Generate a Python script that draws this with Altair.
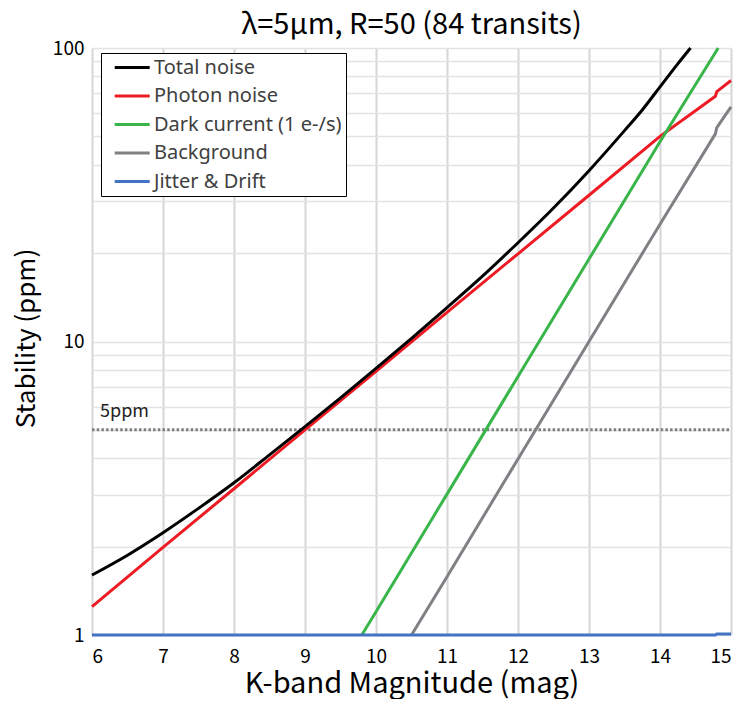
import altair as alt
import pandas as pd

# ---- data ----
total_mag = [6, 6.5, 7, 7.5, 8, 8.5, 9, 9.5, 10, 10.5, 11, 11.5, 12, 12.5, 13, 13.5, 13.75, 14, 14.25, 14.43]
total_val = [1.60, 1.87, 2.23, 2.70, 3.30, 4.11, 5.13, 6.43, 8.1, 10.25, 13.05, 16.7, 21.7, 28.5, 38.2, 52.3, 61.5, 73.7, 88.3, 100]

photon_mag = [6, 7, 8, 9, 10, 11, 12, 13, 14, 14.78, 14.8, 15]
photon_val = [1.25, 1.99, 3.15, 5.0, 7.92, 12.56, 19.9, 31.5, 50, 68.5, 71, 77.5]

dark_mag = [9.8, 10, 11, 12, 13, 14, 14.82]
dark_val = [1.0, 1.2, 3.02, 7.6, 19.1, 47.9, 100]

bkg_mag = [10.5, 11, 12, 13, 14, 14.78, 14.8, 15]
bkg_val = [1.0, 1.58, 3.98, 10.0, 25.1, 51, 53.5, 63]

jit_mag = [6, 14.78, 14.8, 15]
jit_val = [1.0, 1.0, 1.008, 1.008]

series = ["Total noise", "Photon noise", "Dark current (1 e-/s)", "Background", "Jitter & Drift"]
colors = ["#000000", "#ED1C24", "#39B54A", "#808085", "#4472C4"]

x_ticks = [6, 7, 8, 9, 10, 11, 12, 13, 14, 15]
y_grid = [1, 2, 3, 4, 5, 6, 7, 8, 9, 10, 20, 30, 40, 50, 60, 70, 80, 90, 100]
ref_level = [5]
ref_label = ["5ppm"]

rows = []
for name, ms, vs in zip(series,
                        [total_mag, photon_mag, dark_mag, bkg_mag, jit_mag],
                        [total_val, photon_val, dark_val, bkg_val, jit_val]):
    for i, (m, v) in enumerate(zip(ms, vs)):
        rows.append({"series": name, "mag": m, "ppm": v, "order": i})
df = pd.DataFrame(rows)
ref_df = pd.DataFrame({"ppm": ref_level, "label": ref_label, "x0": [6], "x1": [15]})

FONT = "Noto Sans CJK JP"

xscale = alt.Scale(domain=[6, 15], nice=False)
yscale = alt.Scale(type="log", domain=[1, 100], nice=False)

ref_line = alt.Chart(ref_df).mark_rule(color="#7f7f7f", strokeWidth=3, strokeDash=[2.5, 2.2]).encode(
    x=alt.X("x0:Q", scale=xscale),
    x2="x1:Q",
    y=alt.Y("ppm:Q", scale=yscale),
)
ref_text = alt.Chart(ref_df).mark_text(
    align="left", baseline="bottom", dx=8, dy=-9, fontSize=18, font=FONT, color="#222222"
).encode(
    x=alt.X("x0:Q", scale=xscale),
    y=alt.Y("ppm:Q", scale=yscale),
    text="label:N",
)

color_enc = alt.Color("series:N",
                      scale=alt.Scale(domain=series, range=colors),
                      sort=series,
                      legend=alt.Legend(orient="none", legendX=9, legendY=5, title=None,
                                        strokeColor="#000000", fillColor="white", padding=4,
                                        symbolType="M-0.09,0H3.91", symbolStrokeWidth=3, symbolSize=306,
                                        labelFontSize=20, labelFont="Noto Sans", labelColor="#404040",
                                        labelLimit=400, rowPadding=7.5, labelOffset=28))

x_enc = alt.X("mag:Q", scale=xscale,
              axis=alt.Axis(values=x_ticks, title="K-band Magnitude (mag)", format="d",
                            grid=True, gridColor="#d6d6d6", gridWidth=2, domain=False, ticks=False,
                            labelFontSize=19, labelFont=FONT, labelColor="#000000", labelPadding=12,
                            titleFontSize=29, titleFont=FONT, titleFontWeight="normal",
                            titleColor="#000000", titlePadding=3))
y_enc = alt.Y("ppm:Q", scale=yscale,
              axis=alt.Axis(values=y_grid, title="Stability (ppm)", format="d",
                            labelExpr="(datum.value == 1 || datum.value == 10 || datum.value == 100) ? datum.label : ''",
                            grid=True, gridColor="#e3e3e3", gridWidth=1.5, domain=False, ticks=False,
                            labelFontSize=19, labelFont=FONT, labelColor="#000000", labelPadding=8,
                            titleFontSize=26, titleFont=FONT, titleFontWeight="normal",
                            titleColor="#000000", titlePadding=13, titleY=290))

base = alt.Chart(df).encode(x=x_enc, y=y_enc, color=color_enc, detail="series:N", order="order:Q")

other_lines = base.mark_line(strokeWidth=3, interpolate="linear").transform_filter(
    alt.datum.series != "Total noise")
total_line = base.mark_line(strokeWidth=3, interpolate="monotone").transform_filter(
    alt.datum.series == "Total noise")

chart = alt.layer(ref_line, ref_text, other_lines, total_line).properties(
    width=639, height=587,
    title=alt.TitleParams("λ=5μm, R=50 (84 transits)", fontSize=29, font=FONT,
                          fontWeight="normal", color="#000000", offset=-1),
    autosize=alt.AutoSizeParams(type="none"),
    padding={"left": 84, "top": 40, "right": 5, "bottom": 64},
).configure_view(stroke=None)

chart.save("out.html", embed_options={"renderer": "svg", "actions": False})
